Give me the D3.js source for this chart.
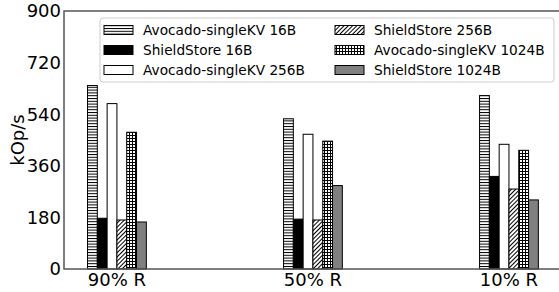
<!DOCTYPE html>
<html>
<head>
<meta charset="utf-8">
<script src="https://cdn.jsdelivr.net/npm/d3@7.9.0/dist/d3.min.js"></script>
<style>
  body { margin: 0; background: #fff; }
  svg { display: block; font-family: "DejaVu Sans", sans-serif; }
</style>
</head>
<body>
<svg id="chart" width="559" height="292"></svg>
<script>
// data
const groups = ["90% R", "50% R", "10% R"];
const seriesNames = [
  "Avocado-singleKV 16B", "ShieldStore 16B", "Avocado-singleKV 256B",
  "ShieldStore 256B", "Avocado-singleKV 1024B", "ShieldStore 1024B"
];
const avocado16 = [640, 524, 605];
const shield16 = [177, 174, 323];
const avocado256 = [577, 470, 435];
const shield256 = [171, 171, 279];
const avocado1024 = [477, 446, 414];
const shield1024 = [164, 291, 241];
const yTicks = [0, 180, 360, 540, 720, 900];

const series = [avocado16, shield16, avocado256, shield256, avocado1024, shield1024];
const fills = ["url(#hline)", "#000", "#fff", "url(#diag)", "url(#grid)", "#808080"];

const svg = d3.select("#chart");
const plotL = 64, plotR = 561, plotT = 11, plotB = 269;

// hatch patterns
const defs = svg.append("defs");
let p = defs.append("pattern").attr("id", "hline").attr("patternUnits", "userSpaceOnUse")
  .attr("width", 6).attr("height", 2.8);
p.append("rect").attr("width", 6).attr("height", 2.8).attr("fill", "#fff");
p.append("rect").attr("y", 0).attr("width", 6).attr("height", 1).attr("fill", "#000");

p = defs.append("pattern").attr("id", "diag").attr("patternUnits", "userSpaceOnUse")
  .attr("width", 3).attr("height", 3).attr("patternTransform", "rotate(45)");
p.append("rect").attr("width", 3).attr("height", 3).attr("fill", "#fff");
p.append("rect").attr("width", 1).attr("height", 3).attr("fill", "#000");

p = defs.append("pattern").attr("id", "grid").attr("patternUnits", "userSpaceOnUse")
  .attr("width", 3).attr("height", 3);
p.append("rect").attr("width", 3).attr("height", 3).attr("fill", "#fff");
p.append("rect").attr("width", 3).attr("height", 1).attr("fill", "#000");
p.append("rect").attr("width", 1).attr("height", 3).attr("fill", "#000");

const x = d3.scaleLinear().domain([-0.27, 2.2655]).range([plotL, plotR]);
const y = d3.scaleLinear().domain([0, 900]).range([plotB, plotT]);
const bw = 0.05; // bar width in group units

// bars
series.forEach((vals, k) => {
  svg.append("g").selectAll("rect")
    .data(vals)
    .join("rect")
    .attr("x", (d, i) => x(i - 3 * bw + k * bw))
    .attr("y", d => y(d))
    .attr("width", x(bw) - x(0))
    .attr("height", d => y(0) - y(d))
    .attr("fill", fills[k])
    .attr("stroke", "#000")
    .attr("stroke-width", 1);
});

// spines
svg.append("rect")
  .attr("x", plotL).attr("y", plotT)
  .attr("width", plotR - plotL).attr("height", plotB - plotT)
  .attr("fill", "none").attr("stroke", "#555").attr("stroke-width", 1.5);

// y axis labels
svg.append("g").selectAll("text")
  .data(yTicks)
  .join("text")
  .attr("x", plotL - 3)
  .attr("y", d => y(d))
  .attr("dy", "0.36em")
  .attr("text-anchor", "end")
  .attr("font-size", 18)
  .text(d => d);

// x axis labels
svg.append("g").selectAll("text")
  .data(groups)
  .join("text")
  .attr("x", (d, i) => x(i))
  .attr("y", plotB + 17)
  .attr("text-anchor", "middle")
  .attr("font-size", 18)
  .text(d => d);

svg.append("text")
  .attr("transform", `translate(24,${(plotT + plotB) / 2}) rotate(-90)`)
  .attr("text-anchor", "middle")
  .attr("font-size", 18)
  .text("kOp/s");

// legend
const lg = svg.append("g");
lg.append("rect")
  .attr("x", 100).attr("y", 18).attr("width", 454).attr("height", 64)
  .attr("rx", 3).attr("fill", "#fff").attr("fill-opacity", 0.9)
  .attr("stroke", "#ccc");
seriesNames.forEach((name, k) => {
  const col = Math.floor(k / 3), row = k % 3;
  const lx = col === 0 ? 104 : 335;
  const ly = 30 + row * 20;
  lg.append("rect")
    .attr("x", lx).attr("y", ly - 4.5).attr("width", 29).attr("height", 9)
    .attr("fill", fills[k]).attr("stroke", "#000");
  lg.append("text")
    .attr("x", lx + 39).attr("y", ly)
    .attr("dy", "0.36em")
    .attr("font-size", 13.7)
    .text(name);
});
</script>
</body>
</html>
